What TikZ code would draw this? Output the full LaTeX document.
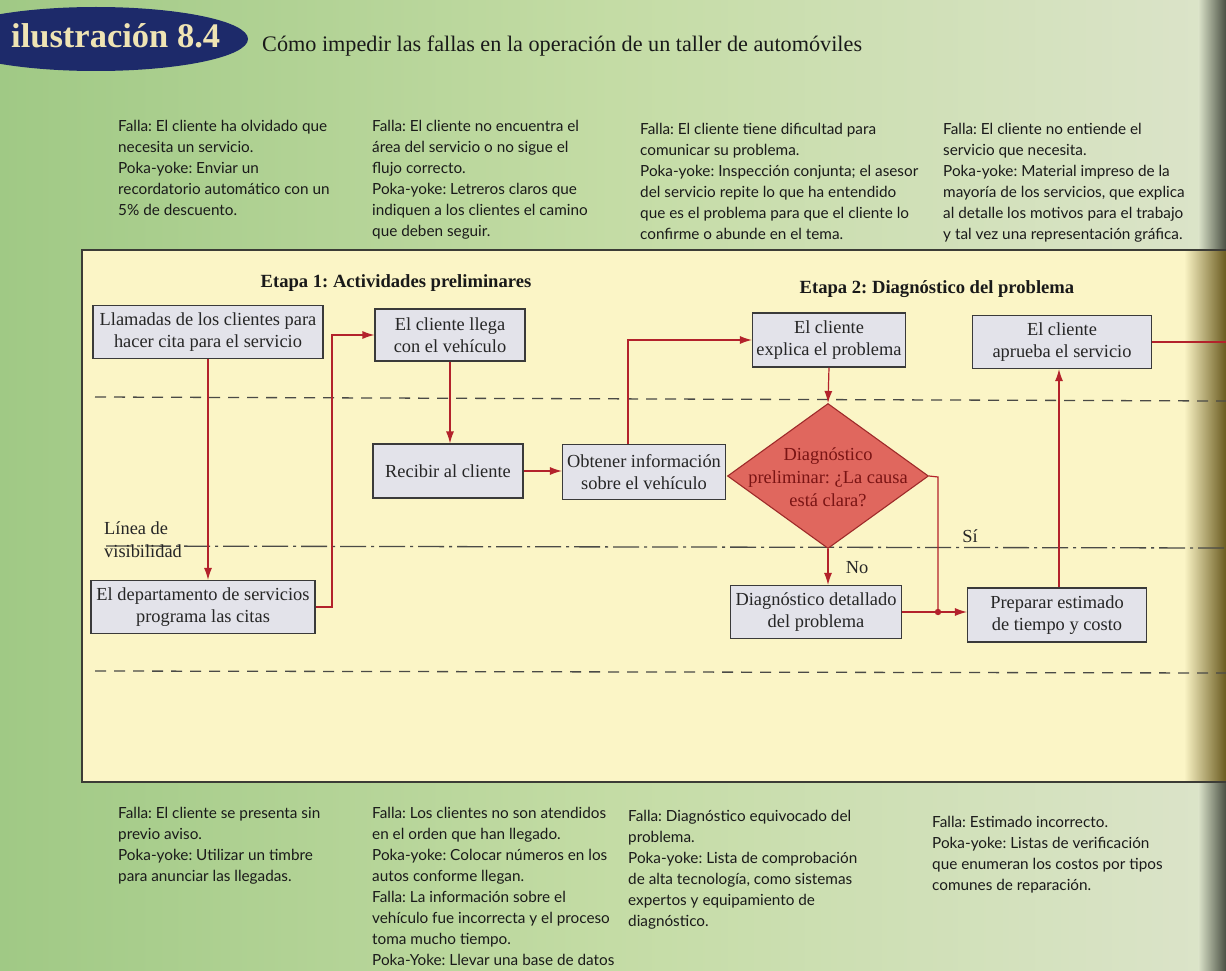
\documentclass[tikz,border=0pt]{standalone}
\usepackage{fontspec}
\setmainfont{Liberation Serif}
\newfontfamily\notefont{Lato}
\usetikzlibrary{arrows.meta,shapes.geometric,calc}
\frenchspacing
\definecolor{bgL}{HTML}{A0C985}
\definecolor{bgM}{HTML}{C4DCA5}
\definecolor{bgR}{HTML}{DCE4CA}
\definecolor{edgeDark}{HTML}{4A5043}
\definecolor{panel}{HTML}{FBF5C6}
\definecolor{panelDark}{HTML}{6A5B20}
\definecolor{panelborder}{HTML}{3C3C36}
\definecolor{navy}{HTML}{1D2A6A}
\definecolor{cream}{HTML}{EFE4B4}
\definecolor{boxfill}{HTML}{E3E3EA}
\definecolor{boxborder}{HTML}{3A3A3A}
\definecolor{arrowred}{HTML}{B3222B}
\definecolor{diafill}{HTML}{E0675E}
\definecolor{diaborder}{HTML}{9E2A2A}
\definecolor{diatext}{HTML}{7A1414}
\definecolor{notetext}{HTML}{1A1A1A}
\definecolor{linegray}{HTML}{4A4A46}
\begin{document}
\begin{tikzpicture}[x=1pt,y=-1pt,
  note/.style={anchor=north west,align=left,inner sep=0pt,text=notetext,
    font=\notefont\fontsize{15.3}{21}\selectfont},
  head/.style={inner sep=0pt,font=\bfseries\fontsize{18.6}{20}\selectfont,text=black!90},
  procbox/.style={draw=boxborder,fill=boxfill,line width=1.1pt,align=center,inner sep=0pt,
    minimum height=53pt,font=\fontsize{18.4}{22.5}\selectfont,text=black!85},
  conn/.style={draw=arrowred,line width=1.2pt,-{Latex[length=12pt,width=8pt]}},
  plain/.style={draw=arrowred,line width=1.2pt},
  dashline/.style={draw=linegray,line width=1.3pt,dash pattern=on 11pt off 8pt},
  visline/.style={draw=linegray,line width=1.3pt,dash pattern=on 26pt off 5pt on 3pt off 5pt},
  lbl/.style={inner sep=0pt,font=\fontsize{18.4}{22.5}\selectfont,text=black!85}
]
\useasboundingbox (0,0) rectangle (1226,971);
% background
\shade[left color=bgL,right color=bgR,middle color=bgM] (0,0) rectangle (1226,971);
\shade[left color=bgR,right color=edgeDark] (1198,0) rectangle (1226,971);
% panel
\fill[panel] (82,250) rectangle (1226,782);
\shade[left color=panel,right color=panelDark] (1184,250) rectangle (1226,782);
\draw[panelborder,line width=1.8pt] (1226,250) -- (82,250) -- (82,782) -- (1226,782);

% title
\fill[navy] (96,39) ellipse [x radius=152, y radius=32];
\node[anchor=west,inner sep=0pt,text=cream,font=\bfseries\fontsize{34.5}{36}\selectfont] (ttl) at (11,36) {ilustración 8.4};
\node[anchor=west,inner sep=0pt,font=\fontsize{22.2}{26}\selectfont,text=black!90] (sub) at (262,46) {Cómo impedir las fallas en la operación de un taller de automóviles};

% top notes
\node[note] (n1) at (118,120) {Falla: El cliente ha olvidado que\\necesita un servicio.\\Poka-yoke: Enviar un\\recordatorio automático con un\\5\% de descuento.};
\node[note] (n2) at (372,120) {Falla: El cliente no encuentra el\\área del servicio o no sigue el\\flujo correcto.\\Poka-yoke: Letreros claros que\\indiquen a los clientes el camino\\que deben seguir.};
\node[note] (n3) at (640,123) {Falla: El cliente tiene dificultad para\\comunicar su problema.\\Poka-yoke: Inspección conjunta; el asesor\\del servicio repite lo que ha entendido\\que es el problema para que el cliente lo\\confirme o abunde en el tema.};
\node[note] (n4) at (943,123) {Falla: El cliente no entiende el\\servicio que necesita.\\Poka-yoke: Material impreso de la\\mayoría de los servicios, que explica\\al detalle los motivos para el trabajo\\y tal vez una representación gráfica.};

% bottom notes
\node[note] (n5) at (118,807) {Falla: El cliente se presenta sin\\previo aviso.\\Poka-yoke: Utilizar un timbre\\para anunciar las llegadas.};
\node[note] (n6) at (372,807) {Falla: Los clientes no son atendidos\\en el orden que han llegado.\\Poka-yoke: Colocar números en los\\autos conforme llegan.\\Falla: La información sobre el\\vehículo fue incorrecta y el proceso\\toma mucho tiempo.\\Poka-Yoke: Llevar una base de datos};
\node[note] (n7) at (628,810) {Falla: Diagnóstico equivocado del\\problema.\\Poka-yoke: Lista de comprobación\\de alta tecnología, como sistemas\\expertos y equipamiento de\\diagnóstico.};
\node[note] (n8) at (932,816) {Falla: Estimado incorrecto.\\Poka-yoke: Listas de verificación\\que enumeran los costos por tipos\\comunes de reparación.};

% lines
\draw[dashline] (95,397) -- (1226,401);
\draw[visline] (106,546) -- (1226,548);
\draw[dashline] (95,671) -- (1226,673);

% headings
\node[head] (h1) at (396,283) {Etapa 1: Actividades preliminares};
\node[head] (h2) at (937,289) {Etapa 2: Diagnóstico del problema};
\node[lbl,anchor=west,align=left,font=\fontsize{18.4}{23}\selectfont] (vis) at (104,540) {Línea de\\visibilidad};

% boxes
\node[procbox,minimum width=230pt] (A) at (208,332) {Llamadas de los clientes para\\hacer cita para el servicio};
\node[procbox,minimum width=150pt,minimum height=52pt] (B) at (450,335) {El cliente llega\\con el vehículo};
\node[procbox,minimum width=150pt,minimum height=54pt] (C) at (448,471) {Recibir al cliente};
\node[procbox,minimum width=163pt,minimum height=55pt] (D) at (644,472) {Obtener información\\sobre el vehículo};
\node[procbox,minimum width=153pt,minimum height=54pt] (E) at (829,340) {El cliente\\explica el problema};
\node[draw=diaborder,fill=diafill,line width=1.1pt,diamond,minimum width=201pt,minimum height=145pt,inner sep=0pt] (F) at (828,476) {};
\node[inner sep=0pt,align=center,text=diatext,font=\fontsize{18.4}{23}\selectfont] (Ft) at (828,477) {Diagnóstico\\preliminar: ¿La causa\\está clara?};
\node[procbox,minimum width=179pt] (G) at (1062,342) {El cliente\\aprueba el servicio};
\node[procbox,minimum width=224pt] (H) at (203,607) {El departamento de servicios\\programa las citas};
\node[procbox,minimum width=171pt] (I) at (816,612) {Diagnóstico detallado\\del problema};
\node[procbox,minimum width=179pt,minimum height=54pt] (J) at (1057,615) {Preparar estimado\\de tiempo y costo};

\node[lbl] (si) at (970,536) {Sí};
\node[lbl] (no) at (857,568) {No};

% connectors
\coordinate (hb) at (332,607);
\coordinate (dx) at (628,472);
\coordinate (fx) at (938,477);
\coordinate (gout) at (1226,344);
\draw[conn] (A.south) -- (A.south |- H.north);
\draw[conn] (H.east |- hb) -- (hb) -- (hb |- B.west) -- (B.west);
\draw[conn] (B.south) -- (B.south |- C.north);
\draw[conn] (C.east) -- (C.east -| D.west);
\draw[conn] (dx |- D.north) -- (dx |- E.west) -- (E.west);
\draw[conn] (E.south) -- (F.north);
\draw[conn] (F.south) -- (F.south |- I.north);
\draw[plain] (F.east) -- (fx) -- (fx |- I.east);
\draw[conn] (I.east) -- (I.east -| J.west);
\fill[arrowred] (fx |- I.east) circle [radius=3.2pt];
\draw[conn] (J.north -| 1059,0) -- (G.south -| 1059,0);
\draw[plain] (G.east) -- (G.east -| gout);
\end{tikzpicture}
\end{document}
